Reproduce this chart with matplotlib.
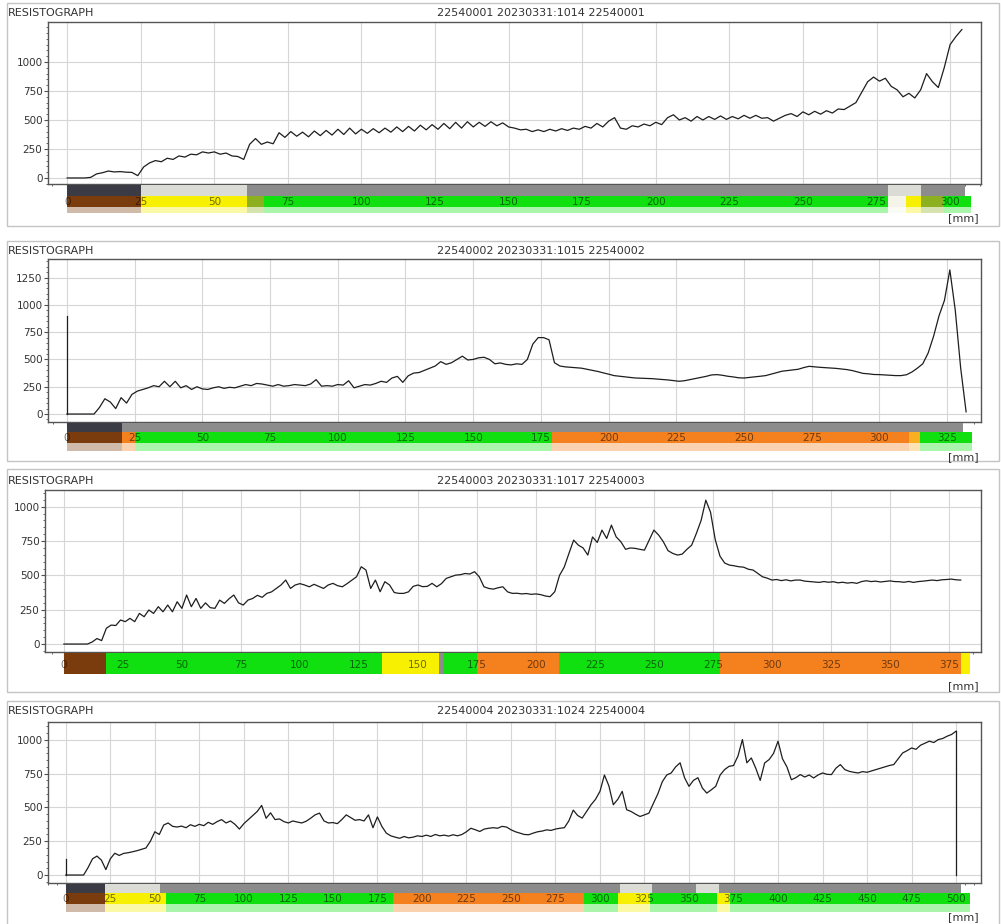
import numpy as np
import matplotlib
matplotlib.use('Agg')
import matplotlib.pyplot as plt
from matplotlib.patches import Rectangle
from matplotlib.ticker import MultipleLocator

W, H = 1001, 924

# ---------------- data ----------------
titles = ['22540001 20230331:1014 22540001',
          '22540002 20230331:1015 22540002',
          '22540003 20230331:1017 22540003',
          '22540004 20230331:1024 22540004']

depth_1 = np.arange(0, 306, 2)
amp_1 = [0, 0, 0, 0, 5, 35, 45, 60, 52, 55,
         50, 48, 20, 95, 130, 150, 140, 170, 160, 190,
         180, 205, 200, 225, 215, 225, 205, 215, 190, 185,
         160, 290, 340, 290, 310, 295, 390, 350, 400, 360,
         395, 355, 405, 365, 410, 370, 420, 375, 430, 380,
         420, 385, 425, 390, 430, 395, 440, 400, 445, 405,
         455, 415, 460, 420, 470, 425, 480, 430, 485, 440,
         480, 445, 485, 450, 475, 440, 430, 415, 420, 400,
         415, 400, 420, 405, 425, 410, 430, 420, 445, 430,
         470, 440, 490, 520, 430, 420, 450, 440, 465, 450,
         480, 460, 520, 545, 500, 520, 490, 530, 500, 530,
         505, 535, 505, 530, 510, 540, 515, 540, 515, 520,
         490, 515, 540, 555, 530, 570, 545, 575, 550, 580,
         560, 595, 590, 620, 650, 740, 830, 870, 835, 860,
         790, 760, 700, 730, 690, 760, 900, 830, 780, 950,
         1150, 1220, 1280]

depth_2 = np.arange(0, 334, 2)
amp_2 = [0, 0, 0, 0, 0, 0, 60, 140, 110, 50,
         150, 100, 180, 210, 225, 240, 260, 250, 300, 250,
         300, 240, 260, 225, 250, 230, 225, 240, 250, 235,
         245, 240, 255, 270, 260, 280, 275, 265, 255, 270,
         255, 260, 270, 265, 260, 275, 315, 255, 260, 255,
         270, 265, 305, 240, 255, 270, 265, 280, 300, 290,
         330, 345, 290, 350, 375, 380, 400, 420, 440, 480,
         455, 470, 500, 530, 495, 500, 515, 520, 500, 460,
         468, 455, 450, 460, 455, 500, 640, 700, 700, 680,
         470, 440, 432, 428, 425, 420, 410, 400, 390, 378,
         365, 352, 346, 340, 335, 330, 328, 326, 324, 320,
         316, 312, 306, 300, 305, 315, 325, 335, 345, 358,
         361, 355, 346, 340, 332, 330, 335, 340, 346, 352,
         365, 378, 392, 398, 405, 410, 425, 437, 432, 428,
         425, 422, 418, 412, 407, 398, 385, 372, 368, 362,
         361, 358, 355, 352, 352, 360, 385, 420, 460, 560,
         713, 900, 1040, 1320, 950, 420, 20]
spike_2 = 900

depth_3 = np.arange(0, 382, 2)
amp_3 = [0, 0, 0, 0, 0, 0, 15, 40, 25, 115,
         138, 135, 175, 163, 187, 163, 223, 199, 248, 223,
         272, 235, 284, 235, 308, 260, 357, 272, 332, 260,
         300, 265, 260, 320, 296, 330, 357, 300, 284, 320,
         332, 355, 340, 369, 380, 405, 430, 466, 405, 430,
         440, 430, 417, 435, 420, 405, 430, 442, 425, 417,
         440, 465, 490, 563, 539, 405, 466, 381, 454, 430,
         375, 369, 369, 380, 420, 430, 418, 420, 442, 417,
         440, 478, 490, 502, 505, 514, 510, 527, 490, 417,
         405, 400, 410, 417, 380, 369, 370, 365, 368, 362,
         365, 360, 350, 345, 381, 500, 560, 660, 757, 720,
         700, 648, 780, 740, 830, 769, 866, 781, 745, 690,
         700, 697, 690, 684, 757, 830, 794, 745, 680, 660,
         648, 655, 690, 720, 806, 900, 1048, 960, 760, 640,
         590, 575, 570, 563, 560, 545, 539, 515, 490, 480,
         466, 470, 462, 468, 460, 466, 466, 458, 455, 452,
         449, 455, 450, 454, 446, 450, 444, 448, 442, 455,
         461, 455, 458, 452, 456, 460, 455, 454, 450, 456,
         449, 455, 458, 462, 466, 462, 468, 470, 473, 468,
         466]

depth_4 = np.arange(0, 502.5, 2.5)
amp_4 = [0, 0, 0, 0, 0, 55, 120, 140, 110, 40,
         120, 161, 145, 160, 165, 172, 180, 190, 200, 250,
         320, 300, 370, 385, 360, 355, 362, 350, 372, 360,
         375, 365, 390, 375, 395, 410, 385, 400, 375, 340,
         380, 410, 440, 470, 515, 420, 460, 410, 415, 395,
         385, 400, 392, 385, 398, 420, 445, 458, 400, 385,
         388, 380, 410, 445, 425, 405, 410, 400, 445, 350,
         430, 360, 310, 290, 280, 272, 285, 275, 280, 290,
         285, 295, 285, 300, 290, 295, 288, 298, 290, 300,
         320, 346, 335, 322, 340, 346, 350, 346, 360, 355,
         335, 320, 310, 300, 298, 310, 320, 325, 334, 330,
         340, 346, 350, 400, 480, 440, 421, 470, 520, 560,
         619, 740, 660, 520, 560, 619, 483, 470, 450, 433,
         445, 458, 530, 600, 690, 740, 755, 800, 830, 720,
         656, 700, 720, 644, 606, 630, 656, 740, 780, 804,
         810, 880, 1002, 830, 866, 790, 700, 829, 854, 900,
         990, 860, 800, 705, 720, 743, 725, 740, 718, 740,
         755, 745, 743, 790, 817, 780, 767, 760, 755, 765,
         760, 770, 780, 790, 800, 810, 817, 860, 903, 920,
         940, 930, 960, 975, 990, 980, 1002, 1010, 1027, 1040,
         1064]
spike_4 = 120

# colour strips under each chart (start mm, end mm, colour)
strip_1 = [(0, 25, 'dark'), (25, 61, 'light'), (61, 279, 'gray'), (279, 290, 'light'), (290, 305, 'gray')]
band_1 = [(0, 25, 'brown'), (25, 61, 'yellow'), (61, 67, 'olive'), (67, 279, 'green'), (279, 285, 'white'),
          (285, 290, 'yellow'), (290, 298, 'olive'), (298, 307, 'green')]
strip_2 = [(0, 20.5, 'dark'), (20.5, 331, 'gray')]
band_2 = [(0, 20.5, 'brown'), (20.5, 25, 'orange'), (25, 179, 'green'), (179, 311, 'orange'),
          (311, 315, 'amber'), (315, 334, 'green')]
band_3 = [(0, 18, 'brown'), (18, 135, 'green'), (135, 159, 'yellow'), (159, 160.5, 'gray'),
          (160.5, 175, 'green'), (175, 210, 'orange'), (210, 278, 'green'), (278, 380, 'orange'),
          (380, 384, 'yellow')]
strip_4 = [(0, 22, 'dark'), (22, 53, 'light'), (53, 311, 'gray'), (311, 329, 'light'), (329, 354, 'gray'),
           (354, 367, 'light'), (367, 503, 'gray')]
band_4 = [(0, 22, 'brown'), (22, 56, 'yellow'), (56, 184, 'green'), (184, 291, 'orange'), (291, 310, 'green'),
          (310, 328, 'yellow'), (328, 366, 'green'), (366, 373, 'yellow'), (373, 508, 'green')]

colors = {'dark': '#3b3b45', 'light': '#dcdcd6', 'gray': '#8c8c8c', 'brown': '#7a3c0c',
          'yellow': '#f7f000', 'green': '#10e010', 'olive': '#8cb020', 'white': '#f4f4e8',
          'orange': '#f5801e', 'amber': '#f8b020'}

# ---------------- layout (pixels) ----------------
panels = [
    dict(depth=depth_1, amp=amp_1, spike=None, drop=False, ax=(48, 22, 981, 184),
         xlim=(-6.5, 310.5), ylim=(-52, 1345), yticks=[0, 250, 500, 750, 1000], xmax=300,
         strip=(185, 196, strip_1), band=(196, 207, band_1), pale=(207, 213),
         title_y=13, mm_y=218, frame=(3, 226)),
    dict(depth=depth_2, amp=amp_2, spike=spike_2, drop=False, ax=(48, 259, 981, 422),
         xlim=(-7, 337.5), ylim=(-73, 1420), yticks=[0, 250, 500, 750, 1000, 1250], xmax=325,
         strip=(423, 432, strip_2), band=(432, 443, band_2), pale=(443, 451),
         title_y=251, mm_y=457, frame=(241, 461)),
    dict(depth=depth_3, amp=amp_3, spike=None, drop=False, ax=(45, 490, 981, 652),
         xlim=(-8, 388.6), ylim=(-58, 1122), yticks=[0, 250, 500, 750, 1000], xmax=375,
         strip=None, band=(653, 674, band_3), pale=None,
         title_y=481, mm_y=686, frame=(469, 692)),
    dict(depth=depth_4, amp=amp_4, spike=spike_4, drop=True, ax=(48, 722, 981, 883),
         xlim=(-10, 514), ylim=(-59, 1132), yticks=[0, 250, 500, 750, 1000], xmax=500,
         strip=(884, 893, strip_4), band=(893, 904, band_4), pale=(904, 912),
         title_y=711, mm_y=917, frame=(701, 930)),
]


def px_axes(fig, left, top, right, bottom):
    return fig.add_axes([left / W, 1 - bottom / H, (right - left) / W, (bottom - top) / H])


def draw_row(fig, p, top, bottom, segs, alpha=1.0, labels=False):
    l, _, r, _ = p['ax']
    bax = px_axes(fig, l, top, r, bottom)
    bax.set_xlim(p['xlim'])
    bax.set_ylim(0, 1)
    bax.axis('off')
    for s, e, c in segs:
        bax.axvspan(s, e, color=colors[c], alpha=alpha, lw=0)
    if labels:
        for v in range(0, p['xmax'] + 1, 25):
            bax.text(v, 0.45, str(v), ha='center', va='center', fontsize=7.5,
                     color='black', alpha=0.55)


fig = plt.figure(figsize=(W / 100, H / 100), dpi=100)

for i, p in enumerate(panels):
    ftop, fbot = p['frame']
    fig.add_artist(Rectangle((7 / W, 1 - fbot / H), 992 / W, (fbot - ftop) / H,
                             transform=fig.transFigure, fill=False, ec='#c4c4c4', lw=1))
    fig.text(8 / W, 1 - p['title_y'] / H, 'RESISTOGRAPH', fontsize=8, va='center', color='#333333')
    fig.text(437 / W, 1 - p['title_y'] / H, titles[i], fontsize=8, va='center', color='#333333')

    ax = px_axes(fig, *p['ax'])
    ax.plot(p['depth'], p['amp'], color='#1e1e1e', lw=0.9)
    if p['spike'] is not None:
        ax.plot([0, 0], [0, p['spike']], color='#1e1e1e', lw=0.9)
    if p['drop']:
        ax.plot([p['depth'][-1], p['depth'][-1]], [p['amp'][-1], 0], color='#1e1e1e', lw=0.9)
    ax.set_xlim(p['xlim'])
    ax.set_ylim(p['ylim'])
    ax.set_xticks(np.arange(0, p['xmax'] + 1, 25))
    ax.xaxis.set_minor_locator(MultipleLocator(5))
    ax.set_yticks(p['yticks'])
    ax.yaxis.set_minor_locator(MultipleLocator(50))
    ax.tick_params(axis='x', labelbottom=False, length=3, color='#505050')
    ax.tick_params(axis='x', which='minor', length=1.5, color='#505050')
    ax.tick_params(axis='y', labelsize=7.5, labelcolor='#333333', length=3, pad=1, color='#505050')
    ax.tick_params(axis='y', which='minor', length=1.5, color='#505050')
    ax.grid(True, color='#d6d6d6', lw=0.8)
    ax.set_axisbelow(True)
    for sp in ax.spines.values():
        sp.set_color('#555555')
        sp.set_linewidth(1)

    if p['strip'] is not None:
        draw_row(fig, p, *p['strip'])
    btop, bbot, bsegs = p['band']
    draw_row(fig, p, btop, bbot, bsegs, labels=True)
    if p['pale'] is not None:
        draw_row(fig, p, p['pale'][0], p['pale'][1], bsegs, alpha=0.35)

    fig.text(963 / W, 1 - p['mm_y'] / H, '[mm]', fontsize=8, ha='center', va='center', color='#333333')

fig.savefig('out.png', dpi=100)
